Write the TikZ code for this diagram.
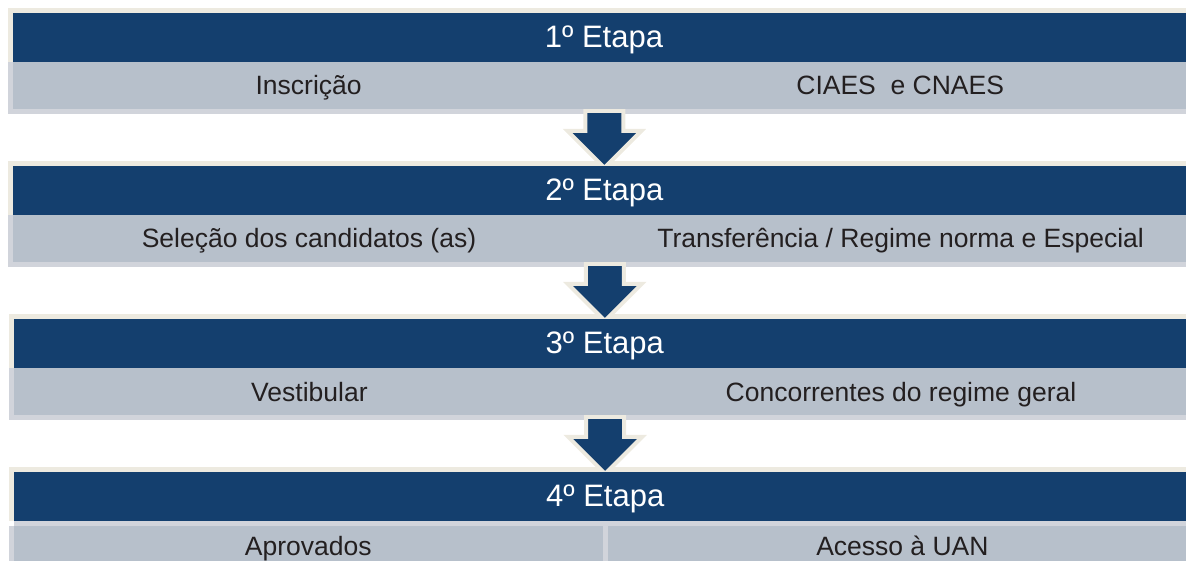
\documentclass[tikz,border=0pt]{standalone}
\usepackage{fontspec}
\setmainfont{Liberation Sans}
\usetikzlibrary{positioning, shapes.arrows, calc, backgrounds}
\definecolor{azul}{HTML}{143F6E}
\definecolor{cinza}{HTML}{B7C0CB}
\definecolor{creme}{HTML}{EDEAE0}
\definecolor{moldura}{HTML}{D1D4DB}
\definecolor{texto}{HTML}{231F20}
\tikzset{
  etapa/.style={rectangle, fill=azul, text=white, minimum width=1182pt, minimum height=49pt, inner sep=0pt, text height=26pt, text depth=6pt, font=\fontsize{31}{34}\selectfont},
  celula/.style={rectangle, fill=cinza, draw=cinza, line width=0.6pt, text=texto, minimum width=591pt, minimum height=46pt, inner sep=0pt, text height=24pt, text depth=5pt, anchor=north west, font=\fontsize{26.5}{30}\selectfont},
  seta/.style={single arrow, shape border rotate=270, fill=azul, draw=creme, line width=4pt, inner sep=17pt, minimum height=52pt, single arrow head extend=18pt},
}

\begin{document}
\begin{tikzpicture}[x=1pt, y=-1pt]
        \useasboundingbox (0,0) rectangle (1186,561);

        \node[etapa] (e1) at (604,37.5) {1º Etapa};
        \node[celula] (e1a) at (e1.south west) {Inscrição};
        \node[celula] (e1b) at (e1a.north east) {CIAES\ \ e CNAES};

        \node[etapa, below=57pt of e1a.south east] (e2) {2º Etapa};
        \node[celula] (e2a) at (e2.south west) {Seleção dos candidatos (as)};
        \node[celula] (e2b) at (e2a.north east) {Transferência / Regime norma e Especial};

        \node[etapa, below=57pt of e2a.south east] (e3) {3º Etapa};
        \node[celula] (e3a) at (e3.south west) {Vestibular};
        \node[celula] (e3b) at (e3a.north east) {Concorrentes do regime geral};

        \node[etapa, below=57pt of e3a.south east] (e4) {4º Etapa};
        \node[celula, minimum width=588pt, minimum height=43pt, text height=20pt] (e4a) at ($(e4.south west)+(0,5)$) {Aprovados};
        \node[celula, minimum width=589pt, minimum height=43pt, text height=20pt] (e4b) at ($(e4a.north east)+(5,0)$) {Acesso à UAN};

        % molduras e setas por tras
        \begin{pgfonlayer}{background}
            \foreach \i in {1,...,4} {
                \fill[creme] ($(e\i.north west)+(-5,-5)$) rectangle ($(e\i.south east)+(5,0)$);
                \fill[moldura] ($(e\i a.north west)+(-5,0)$) rectangle ($(e\i b.south east)+(5,5)$);
            }
            \fill[moldura] (e4.south west) rectangle ($(e4.south east)+(0,5)$);
            \node[seta, below=0pt of e1a.south east] (s1) {};
            \node[seta, below=0pt of e2a.south east] (s2) {};
            \node[seta, below=0pt of e3a.south east] (s3) {};
        \end{pgfonlayer}
\end{tikzpicture}
\end{document}
